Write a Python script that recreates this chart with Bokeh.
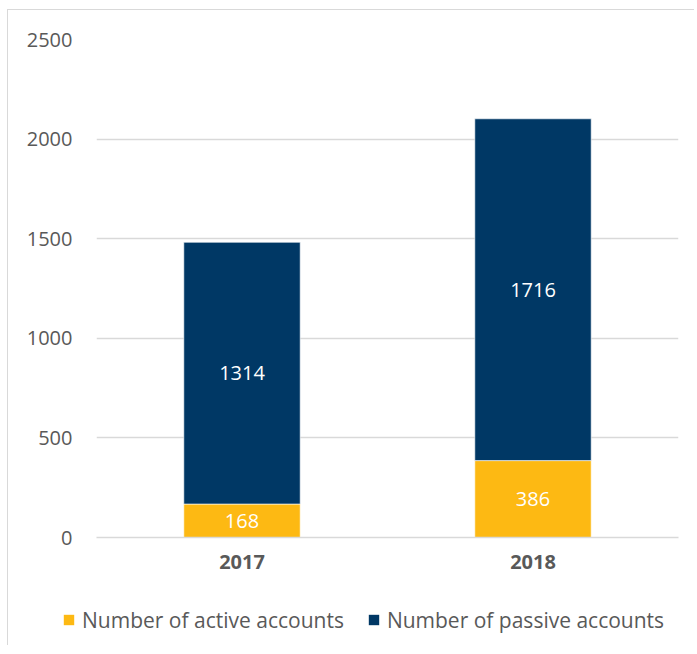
from bokeh.plotting import figure
from bokeh.models import ColumnDataSource, Legend, LegendItem, FactorRange, Range1d, FixedTicker
from bokeh.embed import file_html
from bokeh.resources import INLINE
from bokeh.core.properties import value

years = ["2017", "2018"]
active = [168, 386]
passive = [1314, 1716]
y_ticks = [0, 500, 1000, 1500, 2000, 2500]
series_names = ["Number of active accounts", "Number of passive accounts"]
colors = ["#FDB913", "#003865"]

FONT = "Open Sans"
GREY = "#595959"

src = ColumnDataSource(dict(year=years, active=active, passive=passive))

p = figure(x_range=FactorRange(*years), y_range=Range1d(0, 2500),
           width=687, height=572, output_backend="svg", toolbar_location=None,
           min_border_left=88, min_border_right=17, min_border_top=29, min_border_bottom=45,
           styles={"border-left": "1.5px solid #d9d9d9", "border-top": "1.5px solid #d9d9d9",
                   "margin-top": "8.5px", "margin-left": "7px"})

rs = p.vbar_stack(["active", "passive"], x="year", width=0.4, color=colors,
                  line_color="white", line_width=0.6, source=src)

# data labels centered in each segment
act_mid = [a / 2 for a in active]
pas_mid = [a + b / 2 for a, b in zip(active, passive)]
lab_src = ColumnDataSource(dict(
    x=years + years,
    y=act_mid + pas_mid,
    t=[str(v) for v in active] + [str(v) for v in passive]))
p.text(x="x", y="y", text="t", source=lab_src, text_color="white",
       text_align="center", text_baseline="middle",
       text_font=value(FONT), text_font_size="20px")

p.outline_line_color = None
p.background_fill_color = "white"
p.border_fill_color = "white"

p.xgrid.grid_line_color = None
p.ygrid.grid_line_color = "#d9d9d9"
p.ygrid.grid_line_width = 1.5
p.yaxis.ticker = FixedTicker(ticks=y_ticks)

p.yaxis.axis_line_color = None
p.yaxis.major_tick_line_color = None
p.yaxis.minor_tick_line_color = None
p.yaxis.major_label_standoff = 18
p.yaxis.major_label_text_font = FONT
p.yaxis.major_label_text_font_size = "20px"
p.yaxis.major_label_text_color = GREY

p.xaxis.axis_line_color = "#d9d9d9"
p.xaxis.axis_line_width = 1.5
p.xaxis.major_tick_line_color = None
p.xaxis.minor_tick_line_color = None
p.xaxis.major_label_standoff = 11
p.xaxis.major_label_text_font = FONT
p.xaxis.major_label_text_font_size = "20px"
p.xaxis.major_label_text_font_style = "bold"
p.xaxis.major_label_text_color = GREY

# legend strip below the chart (separate root so it is not frame-aligned)
p2 = figure(x_range=FactorRange(*years), y_range=Range1d(0, 2500),
            width=687, height=64, output_backend="svg", toolbar_location=None,
            x_axis_type=None, y_axis_type=None,
            min_border_left=0, min_border_right=0, min_border_top=0, min_border_bottom=0,
            styles={"border-left": "1.5px solid #d9d9d9", "margin-left": "7px"})
p2.grid.grid_line_color = None
p2.outline_line_color = None
p2.border_fill_color = "white"
swatches = p2.vbar_stack(["active", "passive"], x="year", width=0.4, color=colors,
                         line_color=None, source=src)
for r in swatches:
    r.visible = False

legend = Legend(items=[LegendItem(label=series_names[i], renderers=[swatches[i]])
                       for i in range(len(series_names))],
                orientation="horizontal", location=(54, 11),
                label_text_font=FONT, label_text_font_size="21px", label_text_color=GREY,
                glyph_width=13, glyph_height=13, label_standoff=7, spacing=23,
                inactive_fill_alpha=0,
                border_line_color=None, background_fill_alpha=0, margin=0, padding=4)
p2.add_layout(legend, "center")

open("out.html", "w").write(file_html([p, p2], INLINE))
